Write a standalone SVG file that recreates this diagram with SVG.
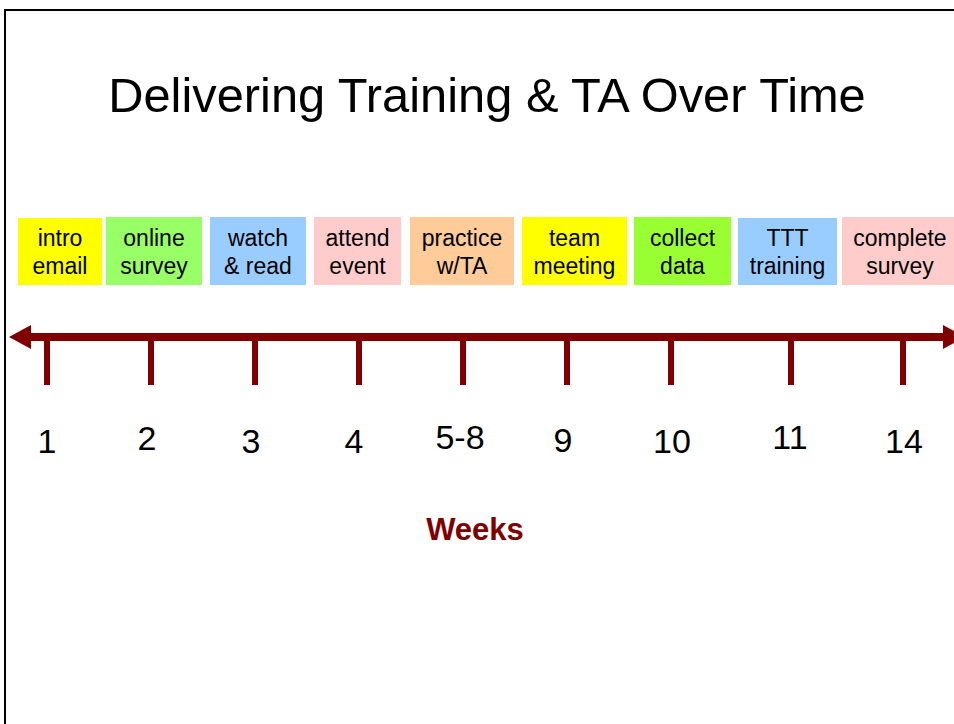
<svg xmlns="http://www.w3.org/2000/svg" width="954" height="724" viewBox="0 0 954 724">
  <style>
    text { font-family: "Liberation Sans", Arial, sans-serif; fill: #000; }
    .box text { font-size: 23px; text-anchor: middle; }
    .num { font-size: 34px; text-anchor: middle; }
    .tick { stroke: #800000; stroke-width: 6; }
    .yellow { fill: #ffff00; }
    .green { fill: #99ff66; }
    .green2 { fill: #99ff33; }
    .blue { fill: #99ccff; }
    .pink { fill: #ffcccc; }
    .orange { fill: #ffcc99; }
  </style>
  <rect x="0" y="0" width="954" height="724" fill="#fff"/>
  <path d="M5 740 V10 H970" fill="none" stroke="#000" stroke-width="2"/>

  <text x="487" y="112" font-size="48.8" text-anchor="middle">Delivering Training &amp; TA Over Time</text>

  <g id="box-intro" class="box">
    <rect class="yellow" x="18" y="218" width="84" height="67"/>
    <text x="60" y="246">intro</text><text x="60" y="274">email</text>
  </g>
  <g id="box-online" class="box">
    <rect class="green" x="106" y="217" width="96" height="68"/>
    <text x="154" y="246">online</text><text x="154" y="274">survey</text>
  </g>
  <g id="box-watch" class="box">
    <rect class="blue" x="210" y="217" width="96" height="68"/>
    <text x="258" y="246">watch</text><text x="258" y="274">&amp; read</text>
  </g>
  <g id="box-attend" class="box">
    <rect class="pink" x="314" y="217" width="87" height="68"/>
    <text x="357.5" y="246">attend</text><text x="357.5" y="274">event</text>
  </g>
  <g id="box-practice" class="box">
    <rect class="orange" x="410" y="217" width="104" height="68"/>
    <text x="462" y="246">practice</text><text x="462" y="274">w/TA</text>
  </g>
  <g id="box-team" class="box">
    <rect class="yellow" x="522" y="217" width="105" height="68"/>
    <text x="574.5" y="246">team</text><text x="574.5" y="274">meeting</text>
  </g>
  <g id="box-collect" class="box">
    <rect class="green2" x="634" y="217" width="97" height="68"/>
    <text x="682.5" y="246">collect</text><text x="682.5" y="274">data</text>
  </g>
  <g id="box-ttt" class="box">
    <rect class="blue" x="738" y="218" width="99" height="67"/>
    <text x="787.5" y="246">TTT</text><text x="787.5" y="274">training</text>
  </g>
  <g id="box-complete" class="box">
    <rect class="pink" x="842" y="217" width="116" height="68"/>
    <text x="900" y="246">complete</text><text x="900" y="274">survey</text>
  </g>

  <g id="connectors">
    <line x1="28" y1="337" x2="946" y2="337" stroke="#800000" stroke-width="8"/>
    <polygon points="9,337 31,325 31,349" fill="#800000"/>
    <polygon points="965,337 943,325 943,349" fill="#800000"/>
    <line class="tick" x1="47" y1="337" x2="47" y2="385"/>
    <line class="tick" x1="151" y1="337" x2="151" y2="385"/>
    <line class="tick" x1="255" y1="337" x2="255" y2="385"/>
    <line class="tick" x1="359" y1="337" x2="359" y2="385"/>
    <line class="tick" x1="463" y1="337" x2="463" y2="385"/>
    <line class="tick" x1="567" y1="337" x2="567" y2="385"/>
    <line class="tick" x1="671" y1="337" x2="671" y2="385"/>
    <line class="tick" x1="791" y1="337" x2="791" y2="385"/>
    <line class="tick" x1="903" y1="337" x2="903" y2="385"/>
  </g>

  <g id="labels">
    <text class="num" x="47" y="453">1</text>
    <text class="num" x="147" y="450">2</text>
    <text class="num" x="251" y="453">3</text>
    <text class="num" x="354" y="453">4</text>
    <text class="num" x="460" y="449">5-8</text>
    <text class="num" x="563" y="452">9</text>
    <text class="num" x="672" y="453">10</text>
    <text class="num" x="790" y="449">11</text>
    <text class="num" x="904" y="453">14</text>
  </g>

  <text x="475" y="540" font-size="31" font-weight="bold" text-anchor="middle" style="fill:#800000">Weeks</text>
</svg>
